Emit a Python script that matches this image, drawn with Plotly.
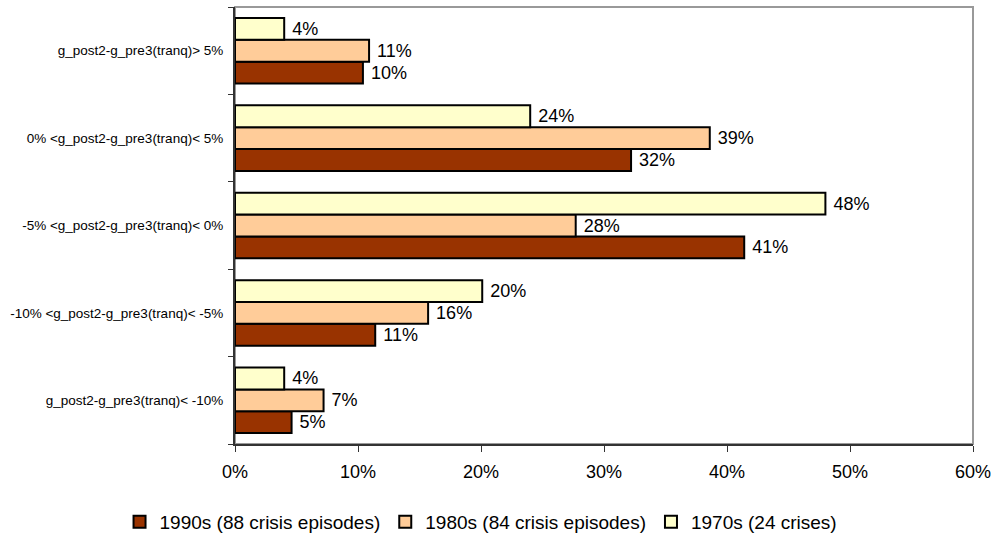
import plotly.graph_objects as go

categories = [
    "g_post2-g_pre3(tranq)< -10%",
    "-10% <g_post2-g_pre3(tranq)< -5%",
    "-5% <g_post2-g_pre3(tranq)< 0%",
    "0% <g_post2-g_pre3(tranq)< 5%",
    "g_post2-g_pre3(tranq)> 5%",
]
series_names = [
    "1990s (88 crisis episodes)",
    "1980s (84 crisis episodes)",
    "1970s (24 crises)",
]
v1990s = [0.046, 0.114, 0.414, 0.322, 0.104]
v1980s = [0.072, 0.157, 0.277, 0.386, 0.109]
v1970s = [0.040, 0.201, 0.480, 0.240, 0.040]
colors = ["#993300", "#FFCC99", "#FFFFCC"]
x_ticks = [0, 0.1, 0.2, 0.3, 0.4, 0.5, 0.6]

FONT = "Liberation Sans, Arial, sans-serif"

fig = go.Figure()
for name, vals, col in zip(series_names, [v1990s, v1980s, v1970s], colors):
    fig.add_trace(go.Bar(
        y=categories, x=vals, name=name, orientation="h",
        marker=dict(color=col, line=dict(color="black", width=2)),
        texttemplate="\u00a0%{x:.0%}", textposition="outside",
        textfont=dict(size=18, color="black", family=FONT),
        cliponaxis=False, constraintext="none",
    ))

fig.update_layout(
    barmode="group", bargap=0.25, bargroupgap=0,
    width=998, height=537,
    margin=dict(l=235, r=22, t=7, b=93),
    plot_bgcolor="white", paper_bgcolor="white",
    font=dict(family=FONT, color="black"),
    showlegend=True,
    legend=dict(orientation="h", xref="container", yref="container",
                x=0.482, xanchor="center", y=0.028, yanchor="middle",
                font=dict(size=19, color="black"), traceorder="normal",
                itemwidth=30),
    xaxis=dict(range=[0, 0.6], tickvals=x_ticks, tickformat=".0%",
               showgrid=False, zeroline=False, showline=True,
               linecolor="#333333", linewidth=2, ticks="outside",
               ticklen=6, tickcolor="#333333", ticklabelstandoff=4,
               tickfont=dict(size=18, color="black")),
    yaxis=dict(type="category", showgrid=False, showline=True,
               linecolor="#333333", linewidth=2, ticks="outside",
               tickson="boundaries", ticklen=5, tickcolor="#333333",
               ticklabelstandoff=7,
               tickfont=dict(size=13.5, color="black")),
    shapes=[dict(type="rect", xref="x domain", yref="y domain",
                 x0=0, x1=1, y0=0, y1=1, line=dict(color="#999999", width=2),
                 layer="below")],
)

fig.write_html("out.html", config={"displayModeBar": False},
               post_script="document.body.style.margin='0px';")
